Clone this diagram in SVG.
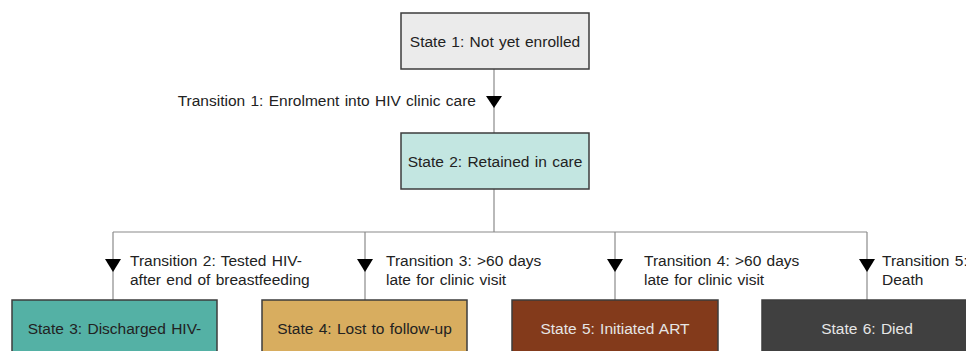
<svg xmlns="http://www.w3.org/2000/svg" width="966" height="351" viewBox="0 0 966 351">
<defs>
<style>
text{font-family:"Liberation Sans",Arial,sans-serif;font-size:15.5px;fill:#222;word-spacing:1px}
.box{stroke:#3c3c3c;stroke-width:1.5}
.light text{fill:#e6e6e6}
.conn line{stroke:#8a8a8a;stroke-width:1.2;fill:none}
.arr{fill:#000}
</style>
</defs>
<rect width="966" height="351" fill="#fff"/>
<g id="connectors" class="conn">
<line x1="494" y1="69" x2="494" y2="133"/>
<line x1="494" y1="189" x2="494" y2="232"/>
<line x1="113" y1="232" x2="867" y2="232"/>
<line x1="113" y1="232" x2="113" y2="300"/>
<line x1="365" y1="232" x2="365" y2="300"/>
<line x1="615" y1="232" x2="615" y2="300"/>
<line x1="867" y1="232" x2="867" y2="300"/>
<polygon class="arr" points="486,96 502,96 494,108"/>
<polygon class="arr" points="105,259 121,259 113,272"/>
<polygon class="arr" points="357,259 373,259 365,272"/>
<polygon class="arr" points="607,259 623,259 615,272"/>
<polygon class="arr" points="859,259 875,259 867,272"/>
<text x="476" y="106" text-anchor="end">Transition 1: Enrolment into HIV clinic care</text>
<text x="130" y="266">Transition 2: Tested HIV-</text>
<text x="130" y="285">after end of breastfeeding</text>
<text x="386" y="266">Transition 3: &gt;60 days</text>
<text x="386" y="285">late for clinic visit</text>
<text x="644" y="266">Transition 4: &gt;60 days</text>
<text x="644" y="285">late for clinic visit</text>
<text x="882" y="266">Transition 5:</text>
<text x="882" y="285">Death</text>
</g>
<g id="state1">
<rect class="box" x="401" y="13" width="188" height="56" fill="#ebebeb"/>
<text x="495" y="47" text-anchor="middle">State 1: Not yet enrolled</text>
</g>
<g id="state2">
<rect class="box" x="401" y="133" width="188" height="56" fill="#c3e6e1"/>
<text x="495" y="167" text-anchor="middle">State 2: Retained in care</text>
</g>
<g id="state3">
<rect class="box" x="12" y="300" width="205" height="62" fill="#54b1a5"/>
<text x="114.5" y="334" text-anchor="middle">State 3: Discharged HIV-</text>
</g>
<g id="state4">
<rect class="box" x="262" y="300" width="205" height="62" fill="#d8ad5f"/>
<text x="364.5" y="334" text-anchor="middle">State 4: Lost to follow-up</text>
</g>
<g id="state5" class="light">
<rect class="box" x="512" y="300" width="206" height="62" fill="#833a1b"/>
<text x="615" y="334" text-anchor="middle">State 5: Initiated ART</text>
</g>
<g id="state6" class="light">
<rect class="box" x="762" y="300" width="210" height="62" fill="#404040"/>
<text x="867" y="334" text-anchor="middle">State 6: Died</text>
</g>
</svg>
